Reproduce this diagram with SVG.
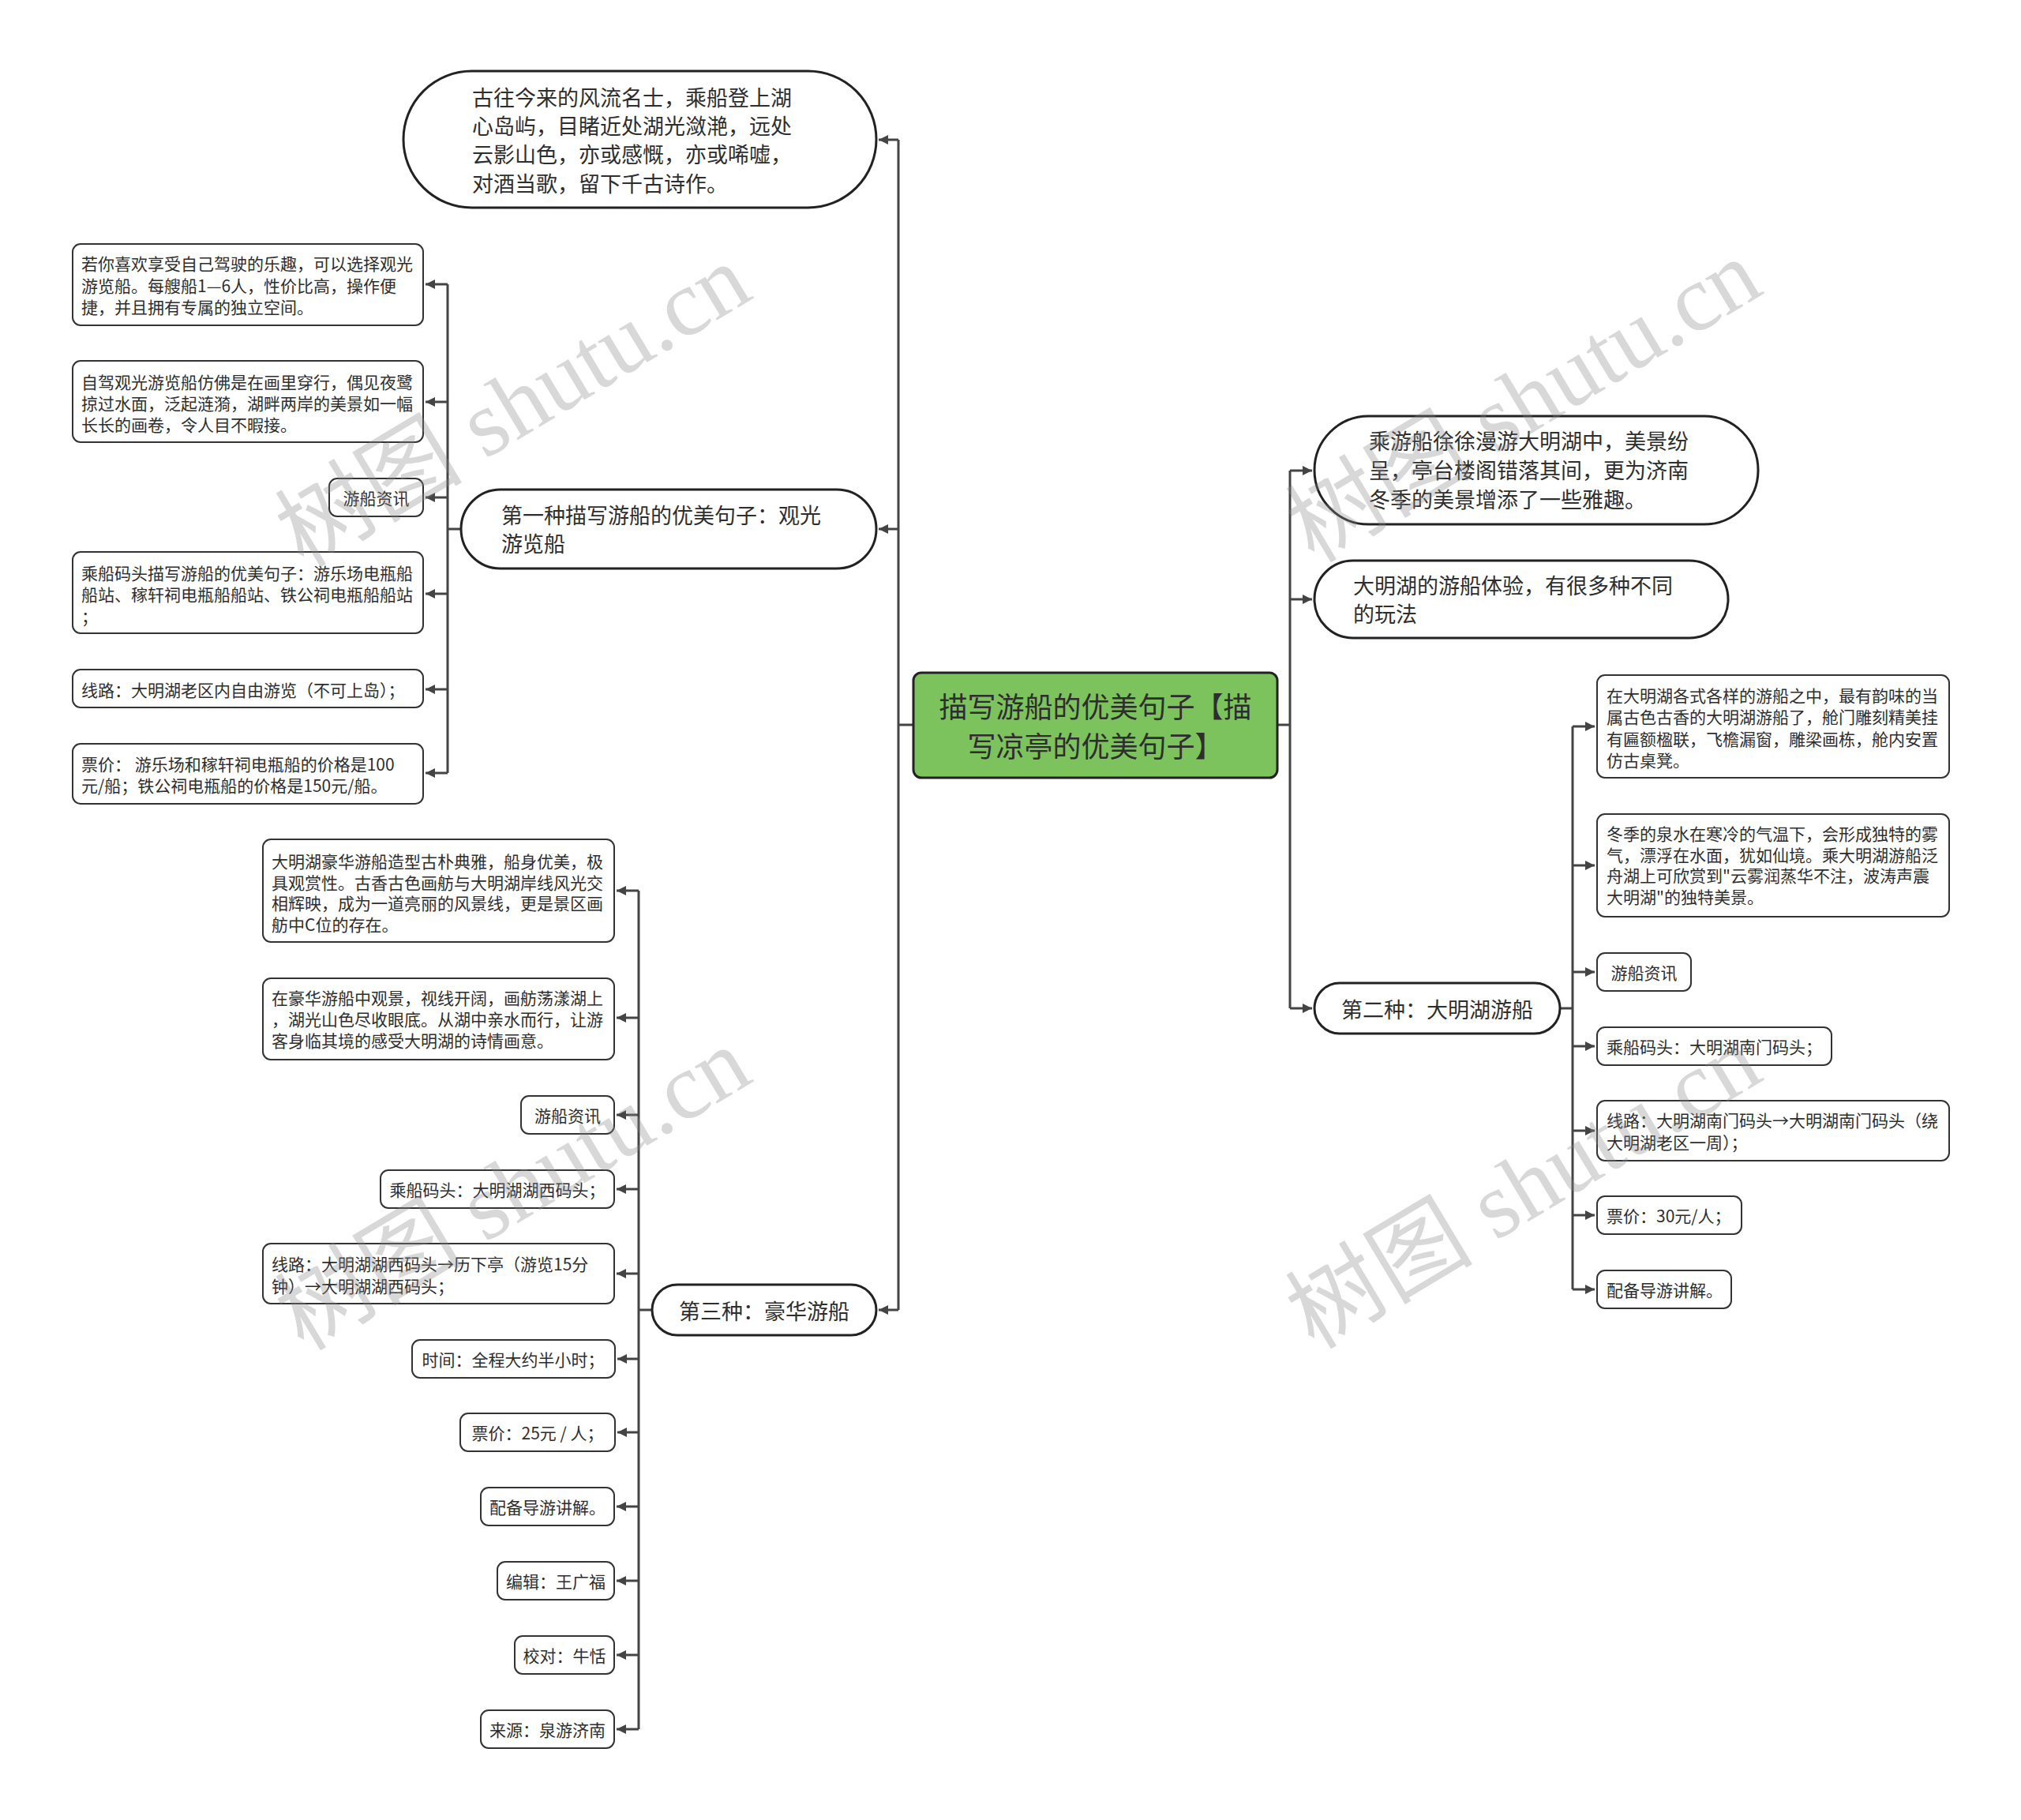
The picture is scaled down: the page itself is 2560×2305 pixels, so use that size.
<svg xmlns="http://www.w3.org/2000/svg" width="2560" height="2305" viewBox="0 0 2560 2305">
<defs>
<style>
.t{font-family:"Noto Sans CJK SC","Liberation Sans",sans-serif;fill:#2e2e2e;}
.s21{font-size:21px;}
.s27{font-size:27px;}
.s36{font-size:36px;}
.box{fill:#fff;stroke:#333;stroke-width:2;}
.pill{fill:#fff;stroke:#222;stroke-width:3;}
.ln{fill:none;stroke:#444;stroke-width:3;}
.wm{font-family:"Liberation Serif","Noto Sans CJK SC",serif;font-size:119px;fill:#888;fill-opacity:0.33;}
</style>
<marker id="ar" viewBox="0 0 10 10" refX="10" refY="5" markerWidth="14" markerHeight="12" markerUnits="userSpaceOnUse" orient="auto">
<path d="M0,0 L10,5 L0,10 z" fill="#444"/>
</marker>
</defs>
<rect width="2560" height="2305" fill="#fff"/>

<g id="connectors">
<path class="ln" d="M1157,918 H1138"/>
<path class="ln" d="M1138,177 V1659"/>
<path class="ln" d="M1138,177 H1113" marker-end="url(#ar)"/>
<path class="ln" d="M1138,670 H1113" marker-end="url(#ar)"/>
<path class="ln" d="M1138,1659 H1113" marker-end="url(#ar)"/>
<path class="ln" d="M1618,918 H1634"/>
<path class="ln" d="M1634,596 V1277"/>
<path class="ln" d="M1634,596 H1662" marker-end="url(#ar)"/>
<path class="ln" d="M1634,759 H1662" marker-end="url(#ar)"/>
<path class="ln" d="M1634,1277 H1662" marker-end="url(#ar)"/>
<path class="ln" d="M584,670 H567"/>
<path class="ln" d="M567,360 V979"/>
<path class="ln" d="M567,360 H539" marker-end="url(#ar)"/>
<path class="ln" d="M567,509 H539" marker-end="url(#ar)"/>
<path class="ln" d="M567,630 H539" marker-end="url(#ar)"/>
<path class="ln" d="M567,752 H539" marker-end="url(#ar)"/>
<path class="ln" d="M567,873 H539" marker-end="url(#ar)"/>
<path class="ln" d="M567,979 H539" marker-end="url(#ar)"/>
<path class="ln" d="M826,1659 H809"/>
<path class="ln" d="M809,1128 V2190"/>
<path class="ln" d="M809,1128 H781" marker-end="url(#ar)"/>
<path class="ln" d="M809,1289 H781" marker-end="url(#ar)"/>
<path class="ln" d="M809,1412 H781" marker-end="url(#ar)"/>
<path class="ln" d="M809,1506 H781" marker-end="url(#ar)"/>
<path class="ln" d="M809,1613 H781" marker-end="url(#ar)"/>
<path class="ln" d="M809,1721 H782" marker-end="url(#ar)"/>
<path class="ln" d="M809,1814 H782" marker-end="url(#ar)"/>
<path class="ln" d="M809,1908 H781" marker-end="url(#ar)"/>
<path class="ln" d="M809,2002 H781" marker-end="url(#ar)"/>
<path class="ln" d="M809,2096 H781" marker-end="url(#ar)"/>
<path class="ln" d="M809,2190 H781" marker-end="url(#ar)"/>
<path class="ln" d="M1976,1277 H1992"/>
<path class="ln" d="M1992,920 V1633"/>
<path class="ln" d="M1992,920 H2020" marker-end="url(#ar)"/>
<path class="ln" d="M1992,1096 H2020" marker-end="url(#ar)"/>
<path class="ln" d="M1992,1231 H2020" marker-end="url(#ar)"/>
<path class="ln" d="M1992,1325 H2020" marker-end="url(#ar)"/>
<path class="ln" d="M1992,1432 H2020" marker-end="url(#ar)"/>
<path class="ln" d="M1992,1539 H2020" marker-end="url(#ar)"/>
<path class="ln" d="M1992,1633 H2020" marker-end="url(#ar)"/>
</g>

<g id="root">
<rect x="1157" y="852" width="461" height="133" rx="10" fill="#7cc25d" stroke="#222" stroke-width="3"/>
<text class="t s36" x="1387.5" y="893" text-anchor="middle" dominant-baseline="central">描写游船的优美句子【描</text>
<text class="t s36" x="1387.5" y="943" text-anchor="middle" dominant-baseline="central">写凉亭的优美句子】</text>
</g>

<g id="n-poem">
<rect class="pill" x="511" y="90" width="599" height="173" rx="86.5"/>
<text class="t s27" dominant-baseline="central"><tspan x="598" y="122">古往今来的风流名士，乘船登上湖</tspan><tspan x="598" y="158">心岛屿，目睹近处湖光潋滟，远处</tspan><tspan x="598" y="194">云影山色，亦或感慨，亦或唏嘘，</tspan><tspan x="598" y="231">对酒当歌，留下千古诗作。</tspan></text>
</g>

<g id="n-type1">
<rect class="pill" x="584" y="620" width="526" height="100" rx="50"/>
<text class="t s27" dominant-baseline="central"><tspan x="635" y="651">第一种描写游船的优美句子：观光</tspan><tspan x="635" y="687">游览船</tspan></text>
</g>

<g id="n-t1a">
<rect class="box" x="92" y="309" width="444" height="103" rx="10"/>
<text class="t s21" dominant-baseline="central"><tspan x="103" y="333">若你喜欢享受自己驾驶的乐趣，可以选择观光</tspan><tspan x="103" y="361">游览船。每艘船1—6人，性价比高，操作便</tspan><tspan x="103" y="388">捷，并且拥有专属的独立空间。</tspan></text>
</g>
<g id="n-t1b">
<rect class="box" x="92" y="457" width="444" height="103" rx="10"/>
<text class="t s21" dominant-baseline="central"><tspan x="103" y="483">自驾观光游览船仿佛是在画里穿行，偶见夜鹭</tspan><tspan x="103" y="510">掠过水面，泛起涟漪，湖畔两岸的美景如一幅</tspan><tspan x="103" y="537">长长的画卷，令人目不暇接。</tspan></text>
</g>
<g id="n-t1c">
<rect class="box" x="417" y="606" width="119" height="48" rx="10"/>
<text class="t s21" x="476.5" y="630" text-anchor="middle" dominant-baseline="central">游船资讯</text>
</g>
<g id="n-t1d">
<rect class="box" x="92" y="699" width="444" height="103" rx="10"/>
<text class="t s21" dominant-baseline="central"><tspan x="103" y="725">乘船码头描写游船的优美句子：游乐场电瓶船</tspan><tspan x="103" y="752">船站、稼轩祠电瓶船船站、铁公祠电瓶船船站</tspan><tspan x="103" y="780">；</tspan></text>
</g>
<g id="n-t1e">
<rect class="box" x="92" y="848" width="444" height="48" rx="10"/>
<text class="t s21" x="103" y="873" dominant-baseline="central">线路：大明湖老区内自由游览（不可上岛）；</text>
</g>
<g id="n-t1f">
<rect class="box" x="92" y="942" width="444" height="76" rx="10"/>
<text class="t s21" dominant-baseline="central"><tspan x="103" y="967">票价：  游乐场和稼轩祠电瓶船的价格是100</tspan><tspan x="103" y="994">元/船；铁公祠电瓶船的价格是150元/船。</tspan></text>
</g>

<g id="n-type3">
<rect class="pill" x="826" y="1627" width="284" height="64" rx="32"/>
<text class="t s27" x="968" y="1659" text-anchor="middle" dominant-baseline="central">第三种：豪华游船</text>
</g>

<g id="n-t3a">
<rect class="box" x="333" y="1063" width="445" height="130" rx="10"/>
<text class="t s21" dominant-baseline="central"><tspan x="344" y="1090">大明湖豪华游船造型古朴典雅，船身优美，极</tspan><tspan x="344" y="1117">具观赏性。古香古色画舫与大明湖岸线风光交</tspan><tspan x="344" y="1143">相辉映，成为一道亮丽的风景线，更是景区画</tspan><tspan x="344" y="1170">舫中C位的存在。</tspan></text>
</g>
<g id="n-t3b">
<rect class="box" x="333" y="1239" width="445" height="103" rx="10"/>
<text class="t s21" dominant-baseline="central"><tspan x="344" y="1263">在豪华游船中观景，视线开阔，画舫荡漾湖上</tspan><tspan x="344" y="1290">，湖光山色尽收眼底。从湖中亲水而行，让游</tspan><tspan x="344" y="1317">客身临其境的感受大明湖的诗情画意。</tspan></text>
</g>
<g id="n-t3c">
<rect class="box" x="660" y="1388" width="118" height="48" rx="10"/>
<text class="t s21" x="719" y="1412" text-anchor="middle" dominant-baseline="central">游船资讯</text>
</g>
<g id="n-t3d">
<rect class="box" x="482" y="1482" width="296" height="48" rx="10"/>
<text class="t s21" x="630" y="1506" text-anchor="middle" dominant-baseline="central">乘船码头：大明湖湖西码头；</text>
</g>
<g id="n-t3e">
<rect class="box" x="333" y="1575" width="445" height="76" rx="10"/>
<text class="t s21" dominant-baseline="central"><tspan x="344" y="1600">线路：大明湖湖西码头→历下亭（游览15分</tspan><tspan x="344" y="1628">钟）→大明湖湖西码头；</tspan></text>
</g>
<g id="n-t3f">
<rect class="box" x="522" y="1697" width="257" height="48" rx="10"/>
<text class="t s21" x="650" y="1721" text-anchor="middle" dominant-baseline="central">时间：全程大约半小时；</text>
</g>
<g id="n-t3g">
<rect class="box" x="583" y="1790" width="196" height="48" rx="10"/>
<text class="t s21" x="681" y="1814" text-anchor="middle" dominant-baseline="central">票价：25元 / 人；</text>
</g>
<g id="n-t3h">
<rect class="box" x="609" y="1884" width="169" height="48" rx="10"/>
<text class="t s21" x="693.5" y="1908" text-anchor="middle" dominant-baseline="central">配备导游讲解。</text>
</g>
<g id="n-t3i">
<rect class="box" x="630" y="1978" width="148" height="48" rx="10"/>
<text class="t s21" x="704" y="2002" text-anchor="middle" dominant-baseline="central">编辑：王广福</text>
</g>
<g id="n-t3j">
<rect class="box" x="652" y="2072" width="126" height="48" rx="10"/>
<text class="t s21" x="715" y="2096" text-anchor="middle" dominant-baseline="central">校对：牛恬</text>
</g>
<g id="n-t3k">
<rect class="box" x="609" y="2166" width="169" height="48" rx="10"/>
<text class="t s21" x="693.5" y="2190" text-anchor="middle" dominant-baseline="central">来源：泉游济南</text>
</g>

<g id="n-r1">
<rect class="pill" x="1665" y="527" width="562" height="137" rx="68.5"/>
<text class="t s27" dominant-baseline="central"><tspan x="1734" y="557">乘游船徐徐漫游大明湖中，美景纷</tspan><tspan x="1734" y="594">呈，亭台楼阁错落其间，更为济南</tspan><tspan x="1734" y="631">冬季的美景增添了一些雅趣。</tspan></text>
</g>
<g id="n-r2">
<rect class="pill" x="1665" y="710" width="524" height="98" rx="49"/>
<text class="t s27" dominant-baseline="central"><tspan x="1714" y="740">大明湖的游船体验，有很多种不同</tspan><tspan x="1714" y="776">的玩法</tspan></text>
</g>
<g id="n-type2">
<rect class="pill" x="1665" y="1245" width="311" height="64" rx="32"/>
<text class="t s27" x="1820.5" y="1277" text-anchor="middle" dominant-baseline="central">第二种：大明湖游船</text>
</g>

<g id="n-t2a">
<rect class="box" x="2023" y="855" width="446" height="130" rx="10"/>
<text class="t s21" dominant-baseline="central"><tspan x="2035" y="880">在大明湖各式各样的游船之中，最有韵味的当</tspan><tspan x="2035" y="907">属古色古香的大明湖游船了，舱门雕刻精美挂</tspan><tspan x="2035" y="935">有匾额楹联，飞檐漏窗，雕梁画栋，舱内安置</tspan><tspan x="2035" y="962">仿古桌凳。</tspan></text>
</g>
<g id="n-t2b">
<rect class="box" x="2023" y="1031" width="446" height="130" rx="10"/>
<text class="t s21" dominant-baseline="central"><tspan x="2035" y="1055">冬季的泉水在寒冷的气温下，会形成独特的雾</tspan><tspan x="2035" y="1082">气，漂浮在水面，犹如仙境。乘大明湖游船泛</tspan><tspan x="2035" y="1108">舟湖上可欣赏到"云雾润蒸华不注，波涛声震</tspan><tspan x="2035" y="1135">大明湖"的独特美景。</tspan></text>
</g>
<g id="n-t2c">
<rect class="box" x="2023" y="1207" width="119" height="48" rx="10"/>
<text class="t s21" x="2082.5" y="1231" text-anchor="middle" dominant-baseline="central">游船资讯</text>
</g>
<g id="n-t2d">
<rect class="box" x="2023" y="1301" width="297" height="48" rx="10"/>
<text class="t s21" x="2035" y="1325" dominant-baseline="central">乘船码头：大明湖南门码头；</text>
</g>
<g id="n-t2e">
<rect class="box" x="2023" y="1394" width="446" height="76" rx="10"/>
<text class="t s21" dominant-baseline="central"><tspan x="2035" y="1418">线路：大明湖南门码头→大明湖南门码头（绕</tspan><tspan x="2035" y="1446">大明湖老区一周）；</tspan></text>
</g>
<g id="n-t2f">
<rect class="box" x="2023" y="1515" width="183" height="48" rx="10"/>
<text class="t s21" x="2035" y="1539" dominant-baseline="central">票价：30元/人；</text>
</g>
<g id="n-t2g">
<rect class="box" x="2023" y="1609" width="170" height="48" rx="10"/>
<text class="t s21" x="2035" y="1633" dominant-baseline="central">配备导游讲解。</text>
</g>

<g id="watermarks">
<text class="wm" x="650" y="514" text-anchor="middle" dominant-baseline="central" transform="rotate(-31 650 514)">树图 shutu.cn</text>
<text class="wm" x="1930" y="508" text-anchor="middle" dominant-baseline="central" transform="rotate(-31 1930 508)">树图 shutu.cn</text>
<text class="wm" x="650" y="1506" text-anchor="middle" dominant-baseline="central" transform="rotate(-31 650 1506)">树图 shutu.cn</text>
<text class="wm" x="1930" y="1504" text-anchor="middle" dominant-baseline="central" transform="rotate(-31 1930 1504)">树图 shutu.cn</text>
</g>
</svg>
